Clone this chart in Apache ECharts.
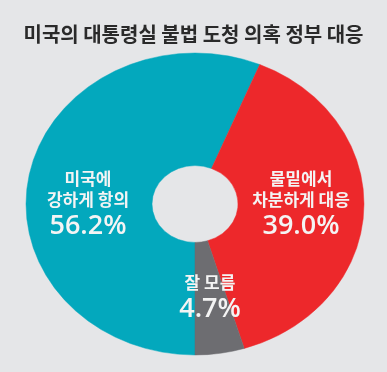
<!DOCTYPE html>
<html>
<head>
<meta charset="utf-8">
<script src="https://cdn.jsdelivr.net/npm/echarts@6/dist/echarts.min.js"></script>
<style>
html,body{margin:0;padding:0;background:#e5e6e8;}
#c{width:387px;height:372px;}
</style>
</head>
<body>
<div id="c"></div>
<script>
// ---- data ----
const titleText = '미국의 대통령실 불법 도청 의혹 정부 대응';
const categories = ['미국에 강하게 항의', '물밑에서 차분하게 대응', '잘 모름'];
const labelLines = [['미국에', '강하게 항의'], ['물밑에서', '차분하게 대응'], ['잘 모름']];
const values = [56.2, 39.0, 4.7];

// ---- layout / style ----
const colors = ['#03a8bd', '#ed282b', '#6d6d71'];
const center = [195, 204];
const rOuter = 169, rInner = 43, yScale = 151 / 169;
const startDeg = 90; // canvas degrees: 6 o'clock, slices go clockwise
const labelAnchor = [[88, 179], [301, 179], [210, 283]];

const total = values.reduce((a, b) => a + b, 0);

const chart = echarts.init(document.getElementById('c'), null, {renderer: 'canvas'});
chart.setOption({
  backgroundColor: '#e5e6e8',
  animation: false,
  title: {
    text: titleText,
    left: 'center',
    top: 19,
    textStyle: {
      fontFamily: '"Noto Sans CJK KR"',
      fontSize: 20,
      fontWeight: 'bold',
      color: '#2a2a2a',
      lineHeight: 20
    }
  },
  series: [{
    type: 'custom',
    coordinateSystem: 'none',
    data: values.map((v, i) => [i, v]),
    renderItem: function (params, api) {
      const i = params.dataIndex;
      let before = 0;
      for (let k = 0; k < i; k++) before += values[k];
      const v = api.value(1);
      const a0 = (startDeg + before / total * 360) * Math.PI / 180;
      const a1 = (startDeg + (before + v) / total * 360) * Math.PI / 180;
      const lines = labelLines[i];
      const anc = labelAnchor[i];
      const children = [{
        type: 'group',
        x: center[0], y: center[1],
        scaleX: 1, scaleY: yScale,
        children: [{
          type: 'sector',
          shape: {cx: 0, cy: 0, r0: rInner, r: rOuter, startAngle: a0, endAngle: a1, clockwise: true},
          style: {fill: colors[i], stroke: colors[i], lineWidth: 0.5}
        }]
      }];
      lines.forEach((t, j) => {
        children.push({
          type: 'text',
          x: anc[0], y: anc[1] + j * 21,
          style: {
            text: t, align: 'center', verticalAlign: 'middle',
            fill: '#f4f4f4', fontSize: 17, fontWeight: 'bold',
            fontFamily: '"Noto Sans CJK KR"'
          }
        });
      });
      children.push({
        type: 'text',
        x: anc[0], y: anc[1] + (lines.length - 1) * 21 + 26,
        style: {
          text: v.toFixed(1) + '%', align: 'center', verticalAlign: 'middle',
          fill: '#f4f4f4', fontSize: 27, fontWeight: 600,
          fontFamily: '"Open Sans"'
        }
      });
      return {type: 'group', children: children};
    }
  }]
});
</script>
</body>
</html>
